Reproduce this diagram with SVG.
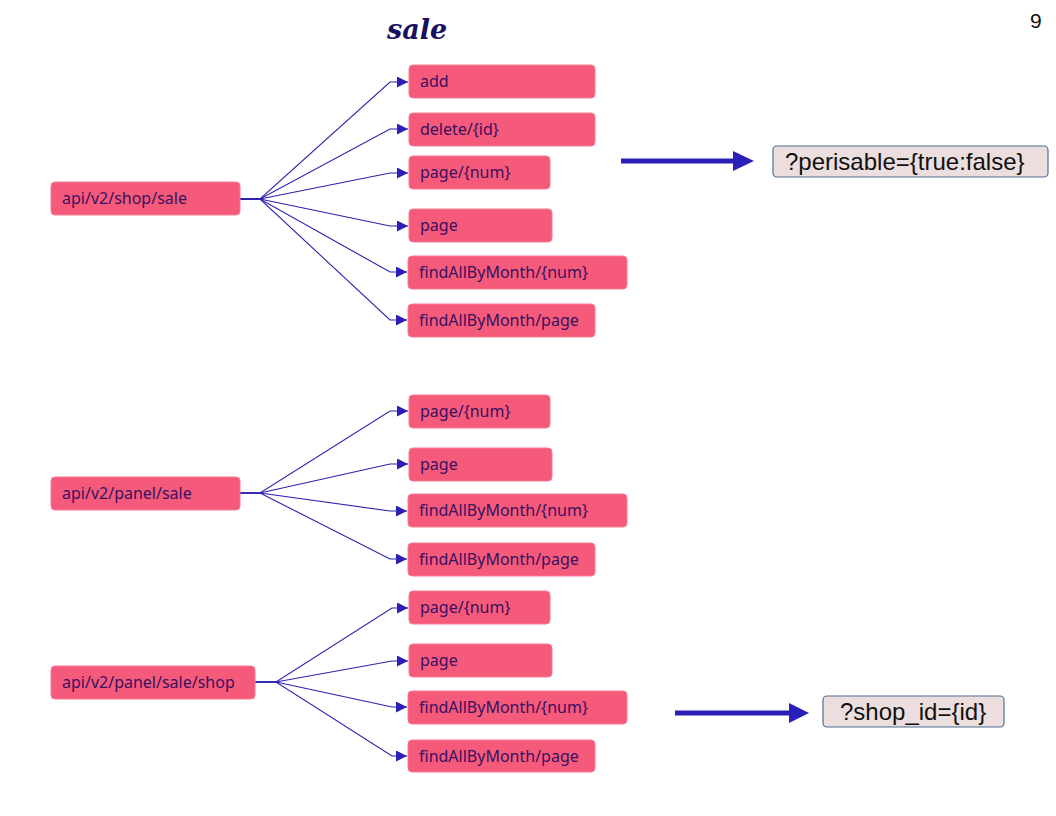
<svg xmlns="http://www.w3.org/2000/svg" width="1056" height="816" viewBox="0 0 1056 816">
<style>
.n{fill:#f55a7a;stroke:#f77a94;stroke-width:1}
.t{font-family:"Noto Sans","Open Sans",sans-serif;font-size:16px;fill:#3a1060}
.c{fill:none;stroke:#2a20b0;stroke-width:1.1}
.q{fill:#ecdede;stroke:#4f6f8f;stroke-width:1.2}
.qt{font-family:"Liberation Sans",Arial,sans-serif;font-size:24px;fill:#111}
.big{fill:none;stroke:#2a1fb8;stroke-width:5}
</style>
<defs>
<marker id="a" markerUnits="userSpaceOnUse" markerWidth="12" markerHeight="12" refX="11" refY="5.5" orient="auto">
<path d="M0,0 L11,5.5 L0,11 z" fill="#2a20b8"/>
</marker>
</defs>
<rect width="1056" height="816" fill="#fff"/>
<text x="387" y="39" font-family="'DejaVu Serif',serif" font-weight="bold" font-style="italic" font-size="27" fill="#1a1060">sale</text>
<text x="1030" y="28" font-family="'Liberation Sans',Arial,sans-serif" font-size="21" fill="#111">9</text>

<g id="connectors">
<path class="c" marker-end="url(#a)" d="M240,199 L260,199 L390,82 L408,82"/>
<path class="c" marker-end="url(#a)" d="M240,199 L260,199 L390,129 L408,129"/>
<path class="c" marker-end="url(#a)" d="M240,199 L260,199 L390,173 L408,173"/>
<path class="c" marker-end="url(#a)" d="M240,199 L260,199 L390,226 L408,226"/>
<path class="c" marker-end="url(#a)" d="M240,199 L260,199 L390,272 L407,272"/>
<path class="c" marker-end="url(#a)" d="M240,199 L260,199 L390,320 L407,320"/>

<path class="c" marker-end="url(#a)" d="M240,493 L260,493 L390,411 L408,411"/>
<path class="c" marker-end="url(#a)" d="M240,493 L260,493 L390,464 L408,464"/>
<path class="c" marker-end="url(#a)" d="M240,493 L260,493 L390,511 L407,511"/>
<path class="c" marker-end="url(#a)" d="M240,493 L260,493 L390,559 L407,559"/>

<path class="c" marker-end="url(#a)" d="M255,682 L276,682 L392,608 L408,608"/>
<path class="c" marker-end="url(#a)" d="M255,682 L276,682 L392,661 L408,661"/>
<path class="c" marker-end="url(#a)" d="M255,682 L276,682 L392,707 L407,707"/>
<path class="c" marker-end="url(#a)" d="M255,682 L276,682 L392,756 L407,756"/>

<line class="big" x1="621" y1="161" x2="735" y2="161"/>
<path d="M733,151 L754,161 L733,171 z" fill="#2a1fb8"/>
<line class="big" x1="675" y1="713" x2="791" y2="713"/>
<path d="M789,703 L809,713 L789,723 z" fill="#2a1fb8"/>
</g>

<g id="n-shop-sale"><rect class="n" x="51" y="182" width="189" height="33" rx="4"/><text class="t" x="62" y="204">api/v2/shop/sale</text></g>
<g id="n-add"><rect class="n" x="409" y="65" width="186" height="33" rx="4"/><text class="t" x="420" y="87">add</text></g>
<g id="n-delete"><rect class="n" x="409" y="113" width="186" height="33" rx="4"/><text class="t" x="420" y="135">delete/{id}</text></g>
<g id="n-pagenum1"><rect class="n" x="409" y="156" width="141" height="33" rx="4"/><text class="t" x="420" y="178">page/{num}</text></g>
<g id="n-page1"><rect class="n" x="409" y="209" width="143" height="33" rx="4"/><text class="t" x="420" y="231">page</text></g>
<g id="n-fabm-num1"><rect class="n" x="408" y="256" width="219" height="33" rx="4"/><text class="t" x="419" y="278">findAllByMonth/{num}</text></g>
<g id="n-fabm-page1"><rect class="n" x="408" y="304" width="187" height="33" rx="4"/><text class="t" x="419" y="326">findAllByMonth/page</text></g>

<g id="n-panel-sale"><rect class="n" x="51" y="477" width="189" height="33" rx="4"/><text class="t" x="62" y="499">api/v2/panel/sale</text></g>
<g id="n-pagenum2"><rect class="n" x="409" y="395" width="141" height="33" rx="4"/><text class="t" x="420" y="417">page/{num}</text></g>
<g id="n-page2"><rect class="n" x="409" y="448" width="143" height="33" rx="4"/><text class="t" x="420" y="470">page</text></g>
<g id="n-fabm-num2"><rect class="n" x="408" y="494" width="219" height="33" rx="4"/><text class="t" x="419" y="516">findAllByMonth/{num}</text></g>
<g id="n-fabm-page2"><rect class="n" x="408" y="543" width="187" height="33" rx="4"/><text class="t" x="419" y="565">findAllByMonth/page</text></g>

<g id="n-panel-sale-shop"><rect class="n" x="51" y="666" width="204" height="33" rx="4"/><text class="t" x="62" y="688">api/v2/panel/sale/shop</text></g>
<g id="n-pagenum3"><rect class="n" x="409" y="591" width="141" height="33" rx="4"/><text class="t" x="420" y="613">page/{num}</text></g>
<g id="n-page3"><rect class="n" x="409" y="644" width="143" height="33" rx="4"/><text class="t" x="420" y="666">page</text></g>
<g id="n-fabm-num3"><rect class="n" x="408" y="691" width="219" height="33" rx="4"/><text class="t" x="419" y="713">findAllByMonth/{num}</text></g>
<g id="n-fabm-page3"><rect class="n" x="408" y="740" width="187" height="32" rx="4"/><text class="t" x="419" y="762">findAllByMonth/page</text></g>

<g id="n-perisable"><rect class="q" x="773" y="146" width="275" height="31" rx="4"/><text class="qt" x="785" y="170">?perisable={true:false}</text></g>
<g id="n-shopid"><rect class="q" x="823" y="696" width="181" height="31" rx="4"/><text class="qt" x="840" y="720">?shop_id={id}</text></g>
</svg>
